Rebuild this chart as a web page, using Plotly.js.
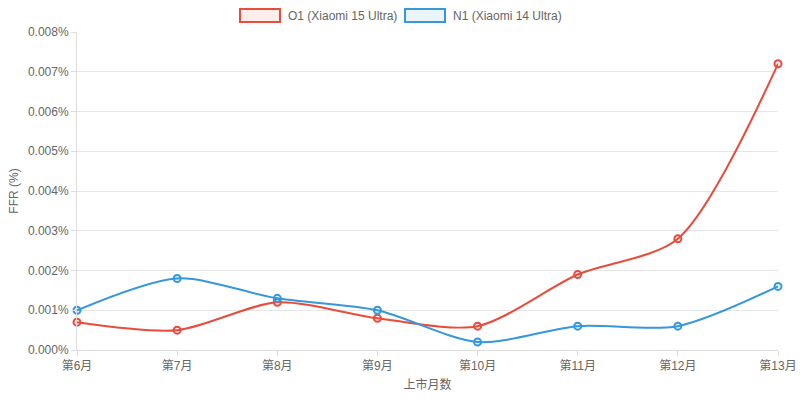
<!DOCTYPE html>
<html><head><meta charset="utf-8">
<script src="https://cdn.plot.ly/plotly-3.0.1.min.js"></script>
<style>html,body{margin:0;padding:0;background:#fff}#c{width:800px;height:401px}</style>
</head><body><div id="c"></div>
<script>
var categories = ["第6月","第7月","第8月","第9月","第10月","第11月","第12月","第13月"];
var o1Values = [0.0007, 0.0005, 0.0012, 0.0008, 0.0006, 0.0019, 0.0028, 0.0072];
var n1Values = [0.0010, 0.0018, 0.0013, 0.0010, 0.0002, 0.0006, 0.0006, 0.0016];
var seriesNames = ["O1 (Xiaomi 15 Ultra)", "N1 (Xiaomi 14 Ultra)"];
var yTicks = [0, 0.001, 0.002, 0.003, 0.004, 0.005, 0.006, 0.007, 0.008];
var yTickLabels = ["0.000%","0.001%","0.002%","0.003%","0.004%","0.005%","0.006%","0.007%","0.008%"];

var red = "#e74c3c", blue = "#3498db";
var font = "Helvetica Neue, Helvetica, Arial, Liberation Sans, Noto Sans CJK SC, sans-serif";

function tr(vals, name, col, fillc) {
  return {
    x: categories, y: vals, name: name, type: "scatter", mode: "lines+markers",
    line: {color: col, width: 2, shape: "spline", smoothing: 0.8},
    marker: {size: 7, color: fillc, line: {color: col, width: 2}},
    showlegend: false, cliponaxis: false
  };
}
var data = [
  tr(o1Values, seriesNames[0], red, "rgba(231,76,60,0.1)"),
  tr(n1Values, seriesNames[1], blue, "rgba(52,152,219,0.1)")
];

var layout = {
  width: 800, height: 401,
  margin: {l: 77, r: 22, t: 32, b: 51},
  paper_bgcolor: "#fff", plot_bgcolor: "#fff",
  font: {family: font, size: 12, color: "#666"},
  xaxis: {
    type: "category", range: [0, 7], showgrid: false,
    showline: true, linecolor: "#ddd", linewidth: 1,
    ticks: "outside", ticklen: 5, tickcolor: "#ddd",
    tickfont: {size: 12, color: "#666"},
    title: {text: "上市月数", font: {size: 12, color: "#666"}, standoff: 8},
    zeroline: false
  },
  yaxis: {
    range: [0, 0.008], tickmode: "array", tickvals: yTicks, ticktext: yTickLabels,
    showgrid: true, gridcolor: "#e6e6e6", gridwidth: 1,
    showline: true, linecolor: "#ddd", linewidth: 1,
    ticks: "outside", ticklen: 5, tickcolor: "#ddd",
    tickfont: {size: 12, color: "#666"},
    title: {text: "FFR (%)", font: {size: 12, color: "#666"}, standoff: 6},
    zeroline: false
  },
  shapes: [
    {type: "rect", xref: "paper", yref: "paper",
     x0: (240-77)/701, x1: (280-77)/701, y0: (401-51-22)/318, y1: (401-51-9)/318,
     line: {color: red, width: 2}, fillcolor: "rgba(231,76,60,0.1)"},
    {type: "rect", xref: "paper", yref: "paper",
     x0: (405-77)/701, x1: (445-77)/701, y0: (401-51-22)/318, y1: (401-51-9)/318,
     line: {color: blue, width: 2}, fillcolor: "rgba(52,152,219,0.1)"}
  ],
  annotations: [
    {xref: "paper", yref: "paper", x: (286-77)/701, y: (401-51-15.5)/318,
     xanchor: "left", yanchor: "middle", showarrow: false, text: seriesNames[0],
     font: {size: 12, color: "#666"}},
    {xref: "paper", yref: "paper", x: (451-77)/701, y: (401-51-15.5)/318,
     xanchor: "left", yanchor: "middle", showarrow: false, text: seriesNames[1],
     font: {size: 12, color: "#666"}}
  ]
};
Plotly.newPlot("c", data, layout, {displayModeBar: false, staticPlot: true});
</script></body></html>
